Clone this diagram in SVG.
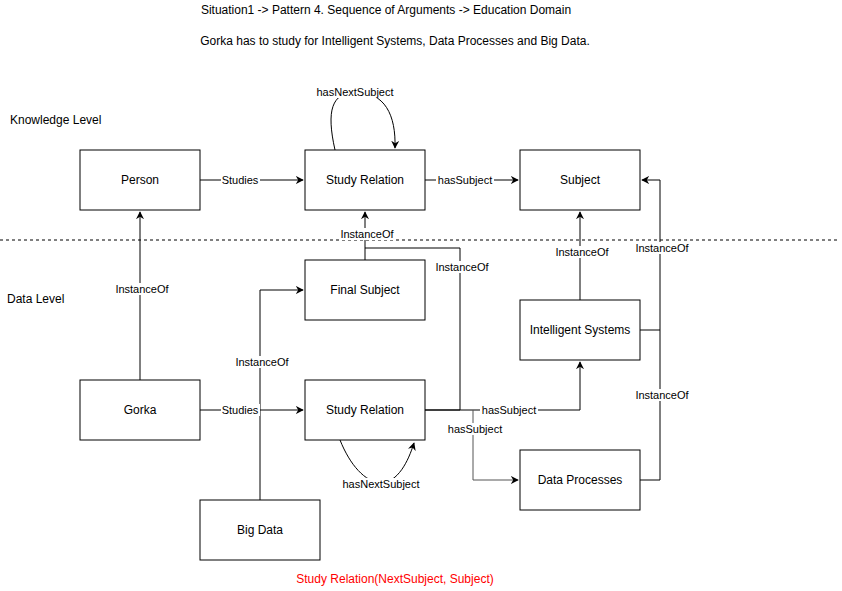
<svg xmlns="http://www.w3.org/2000/svg" width="842" height="591" viewBox="0 0 842 591">
<defs>
<style>
text{font-family:"Liberation Sans",Arial,Helvetica,sans-serif;font-size:12px;fill:#000}
.box{fill:#fff;stroke:#000;stroke-width:1}
.c{fill:none;stroke:#000;stroke-width:1}
.lbl{font-size:11px;text-anchor:middle}
.bg{fill:#fff}
.t{text-anchor:middle}
</style>
<marker id="ah" viewBox="0 0 10 10" refX="9" refY="5" markerWidth="8" markerHeight="8" markerUnits="userSpaceOnUse" orient="auto">
<path d="M0,0 L10,5 L0,10 L3,5 Z" fill="#000"/>
</marker>
</defs>
<rect width="842" height="591" fill="#fff"/>
<text x="386" y="14" class="t">Situation1 -&gt; Pattern 4. Sequence of Arguments -&gt; Education Domain</text>
<text x="395" y="45" class="t">Gorka has to study for Intelligent Systems, Data Processes and Big Data.</text>
<text x="10" y="124">Knowledge Level</text>
<text x="7" y="303">Data Level</text>
<text x="395" y="583" class="t" style="fill:#ff0000">Study Relation(NextSubject, Subject)</text>
<line x1="0" y1="240" x2="838" y2="240" stroke="#000" stroke-dasharray="3,3"/>
<g id="connectors">
<path class="c" d="M200,180 L303,180" marker-end="url(#ah)"/>
<path class="c" d="M425,180 L518,180" marker-end="url(#ah)"/>
<path class="c" d="M335,150 C326,110 332,93 355,92 C385,92 396,115 395,148" marker-end="url(#ah)"/>
<path class="c" d="M140,380 L140,212" marker-end="url(#ah)"/>
<path class="c" d="M200,410 L303,410" marker-end="url(#ah)"/>
<path class="c" d="M365,260 L365,212" marker-end="url(#ah)"/>
<path class="c" d="M425,410 L460,410 L460,248 L365,248"/>
<path class="c" d="M260,500 L260,290 L303,290" marker-end="url(#ah)"/>
<path class="c" d="M425,410 L580,410 L580,362" marker-end="url(#ah)"/>
<path class="c" d="M473,410 L473,480 L518,480" marker-end="url(#ah)" style="stroke:#555"/>
<path class="c" d="M340,440 C350,465 365,482 381,483 C398,482 408,462 414,443" marker-end="url(#ah)"/>
<path class="c" d="M580,300 L580,212" marker-end="url(#ah)"/>
<path class="c" d="M640,330 L660,330 L660,180 L642,180" marker-end="url(#ah)"/>
<path class="c" d="M640,480 L660,480 L660,330"/>
<rect class="bg" x="221" y="174" width="39" height="12"/><text x="240" y="184" class="lbl">Studies</text>
<rect class="bg" x="436" y="174" width="58" height="12"/><text x="465" y="184" class="lbl">hasSubject</text>
<rect class="bg" x="314" y="85" width="82" height="13"/><text x="355" y="96" class="lbl">hasNextSubject</text>
<rect class="bg" x="115" y="283" width="55" height="12"/><text x="142" y="293" class="lbl">InstanceOf</text>
<rect class="bg" x="221" y="404" width="39" height="12"/><text x="240" y="414" class="lbl">Studies</text>
<rect class="bg" x="340" y="228" width="55" height="12"/><text x="367" y="238" class="lbl">InstanceOf</text>
<rect class="bg" x="435" y="261" width="55" height="12"/><text x="462" y="271" class="lbl">InstanceOf</text>
<rect class="bg" x="235" y="356" width="55" height="12"/><text x="262" y="366" class="lbl">InstanceOf</text>
<rect class="bg" x="480" y="404" width="58" height="12"/><text x="509" y="414" class="lbl">hasSubject</text>
<rect class="bg" x="446" y="423" width="58" height="12"/><text x="475" y="433" class="lbl">hasSubject</text>
<rect class="bg" x="340" y="478" width="82" height="13"/><text x="381" y="488" class="lbl">hasNextSubject</text>
<rect class="bg" x="555" y="246" width="55" height="12"/><text x="582" y="256" class="lbl">InstanceOf</text>
<rect class="bg" x="635" y="242" width="55" height="12"/><text x="662" y="252" class="lbl">InstanceOf</text>
<rect class="bg" x="635" y="389" width="55" height="12"/><text x="662" y="399" class="lbl">InstanceOf</text>
</g>
<g id="person"><rect class="box" x="80" y="150" width="120" height="60"/><text x="140" y="184" class="t">Person</text></g>
<g id="study-relation-k"><rect class="box" x="305" y="150" width="120" height="60"/><text x="365" y="184" class="t">Study Relation</text></g>
<g id="subject"><rect class="box" x="520" y="150" width="120" height="60"/><text x="580" y="184" class="t">Subject</text></g>
<g id="final-subject"><rect class="box" x="305" y="260" width="120" height="60"/><text x="365" y="294" class="t">Final Subject</text></g>
<g id="intelligent-systems"><rect class="box" x="520" y="300" width="120" height="60"/><text x="580" y="334" class="t">Intelligent Systems</text></g>
<g id="gorka"><rect class="box" x="80" y="380" width="120" height="60"/><text x="140" y="414" class="t">Gorka</text></g>
<g id="study-relation-d"><rect class="box" x="305" y="380" width="120" height="60"/><text x="365" y="414" class="t">Study Relation</text></g>
<g id="data-processes"><rect class="box" x="520" y="450" width="120" height="60"/><text x="580" y="484" class="t">Data Processes</text></g>
<g id="big-data"><rect class="box" x="200" y="500" width="120" height="60"/><text x="260" y="534" class="t">Big Data</text></g>
</svg>
